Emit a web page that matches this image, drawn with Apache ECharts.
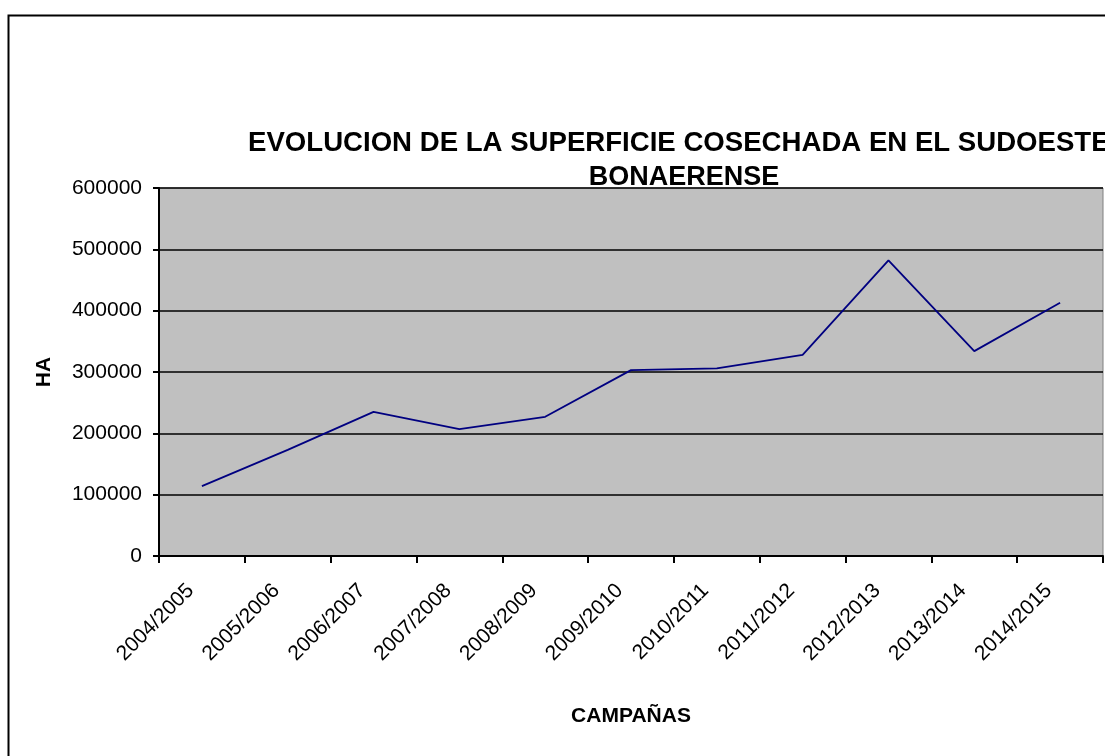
<!DOCTYPE html>
<html>
<head>
<meta charset="utf-8">
<script src="https://cdn.jsdelivr.net/npm/echarts@6/dist/echarts.min.js"></script>
<style>
html,body{margin:0;padding:0;background:#fff;}
#c{width:1105px;height:756px;}
</style>
</head>
<body>
<div id="c"></div>
<script>
const categories = ['2004/2005','2005/2006','2006/2007','2007/2008','2008/2009','2009/2010','2010/2011','2011/2012','2012/2013','2013/2014','2014/2015'];
const superficie = [114000, 173000, 235000, 207000, 227000, 303000, 306000, 328000, 482000, 334000, 413000];
const titleLine1 = 'EVOLUCION DE LA SUPERFICIE COSECHADA EN EL SUDOESTE';
const titleLine2 = 'BONAERENSE';
const yName = 'HA';
const xName = 'CAMPAÑAS';

const FONT = 'Liberation Sans, Arial, sans-serif';
const chart = echarts.init(document.getElementById('c'), null, {renderer:'canvas'});
chart.setOption({
  animation: false,
  backgroundColor: '#fff',
  title: [
    {text: titleLine1, left: 248, top: 129, textStyle:{fontFamily:FONT, fontWeight:'bold', fontSize:27.6, color:'#000'}, padding:0, z: 10},
    {text: titleLine2, left: 684, top: 164, textAlign:'center', textStyle:{fontFamily:FONT, fontWeight:'bold', fontSize:27, color:'#000'}, padding:0, z: 10}
  ],
  graphic: [{
    type:'rect', left: 6, top: 13, z: -10, silent:true,
    shape:{x:0,y:0,width:1200,height:900},
    style:{fill:'none', stroke:'#000', lineWidth:2}
  }],
  grid: {left:159, top:188, right:2, bottom:200, show:true, backgroundColor:'#c0c0c0', borderColor:'#808080', borderWidth:1},
  xAxis: {
    type:'category', data: categories, boundaryGap:true,
    name: xName, nameLocation:'middle', nameGap:150,
    nameTextStyle:{fontFamily:FONT, fontWeight:'bold', fontSize:21, color:'#000'},
    axisLine:{lineStyle:{color:'#000', width:2}},
    axisTick:{show:true, length:7, lineStyle:{color:'#000', width:2}, alignWithLabel:false},
    axisLabel:{rotate:45, margin:20, padding:[0,16,0,0], fontFamily:FONT, fontSize:21, color:'#000', interval:0},
    splitLine:{show:false}
  },
  yAxis: {
    type:'value', min:0, max:600000, interval:100000,
    name: yName, nameLocation:'middle', nameGap:104, nameRotate:90,
    nameTextStyle:{fontFamily:FONT, fontWeight:'bold', fontSize:21, color:'#000'},
    axisLine:{show:true, lineStyle:{color:'#000', width:2}},
    axisTick:{show:true, length:6, lineStyle:{color:'#000', width:2}},
    axisLabel:{margin:17, fontFamily:FONT, fontSize:21, color:'#000', formatter: v => String(v)},
    splitLine:{show:true, lineStyle:{color:'#000', width:1.5}}
  },
  series: [{
    type:'line', data: superficie, symbol:'none',
    lineStyle:{color:'#000080', width:1.8},
    z: 5
  }]
});
</script>
</body>
</html>
